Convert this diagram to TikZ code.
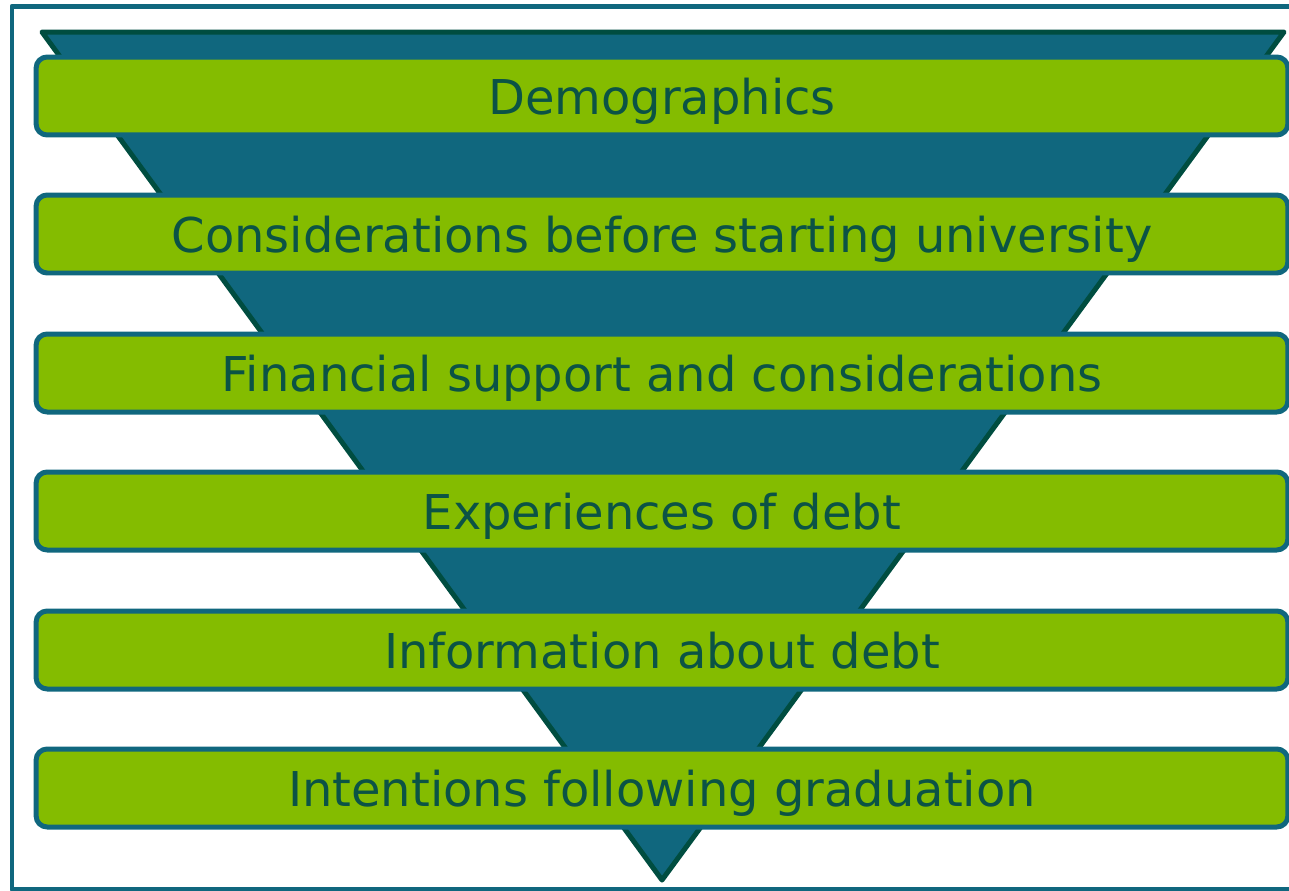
\documentclass[tikz,border=0pt]{standalone}
\usepackage{fontspec}
\setmainfont{DejaVu Sans}
\definecolor{funnelblue}{HTML}{10677E}
\definecolor{funnelline}{HTML}{004D40}
\definecolor{barfill}{HTML}{84BC00}
\definecolor{bartext}{HTML}{0B5345}
\begin{document}
\begin{tikzpicture}[x=0.02cm,y=-0.02cm, line join=round,
    bar/.style={draw=funnelblue, line width=0.1cm, fill=barfill, rounded corners=0.22cm,
        minimum width=25.04cm, minimum height=1.56cm, inner sep=0pt,
        text height=28pt, text depth=6.4pt,
        text=bartext, font=\fontsize{27.3}{32}\selectfont}]
    \useasboundingbox (0,0) rectangle (1289,890);
    \begin{scope}
        \clip (0,0) rectangle (1289,890);
        \draw[funnelblue, line width=0.1cm] (12,6) rectangle (1300,889);
    \end{scope}
    % funnel
    \draw[funnelline, fill=funnelblue, line width=0.1cm] (42,32) -- (1284,32) -- (662,880) -- cycle;
    % bars
    \node[bar] (demo) at (662,96) {Demographics};
    \node[bar] (before) at (662,234) {Considerations before starting university};
    \node[bar] (finance) at (662,373) {Financial support and considerations};
    \node[bar] (experience) at (662,511) {Experiences of debt};
    \node[bar] (info) at (662,650) {Information about debt};
    \node[bar] (after) at (662,788) {Intentions following graduation};
\end{tikzpicture}
\end{document}
